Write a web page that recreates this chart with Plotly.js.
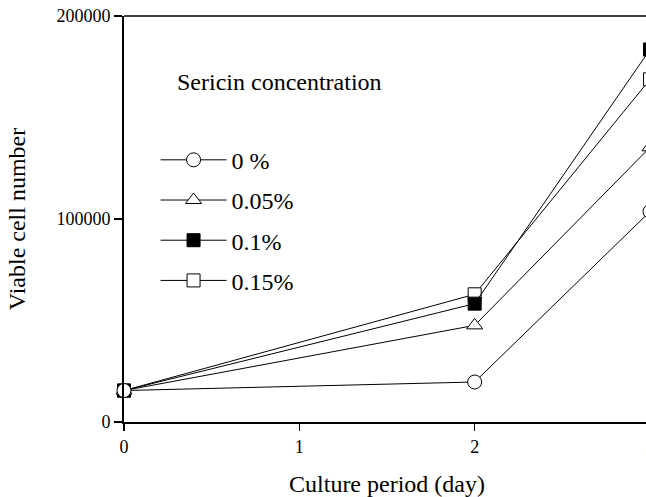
<!DOCTYPE html>
<html>
<head>
<meta charset="utf-8">
<script src="https://cdn.plot.ly/plotly-3.0.1.min.js"></script>
<style>
html, body { margin: 0; padding: 0; overflow: hidden; background: #fff; }
#chart { width: 700px; height: 497px; }
</style>
</head>
<body>
<div id="chart"></div>
<script>
// Data
const days = [0, 2, 3];
const seriesNames = ["0 %", "0.05%", "0.1%", "0.15%"];
const conc0 = [15500, 19700, 103700];
const conc005 = [15500, 47600, 135300];
const conc01 = [15500, 58300, 183500];
const conc015 = [15500, 62900, 168800];
const yTickVals = [0, 100000, 200000];
const xTickVals = [0, 1, 2, 3];

const FONT = "'Liberation Serif', 'Times New Roman', Times, serif";

const styles = [
  { symbol: "circle", fill: "#ffffff", size: 14 },
  { symbol: "triangle-up", fill: "#ffffff", size: 14 },
  { symbol: "square", fill: "#000000", size: 13 },
  { symbol: "square", fill: "#ffffff", size: 13 }
];
const values = [conc0, conc005, conc01, conc015];

const traces = [];
// draw order: 0.15% first, 0 % last (circle on top)
for (let i = values.length - 1; i >= 0; i--) {
  traces.push({
    x: days,
    y: values[i],
    name: seriesNames[i],
    type: "scatter",
    mode: "lines+markers",
    legendgroup: "g" + i,
    legendrank: i + 1,
    line: { color: "#000", width: 1 },
    marker: {
      symbol: styles[i].symbol,
      size: styles[i].size,
      color: styles[i].fill,
      line: { color: "#000", width: 1 }
    },
    cliponaxis: false
  });
}

const layout = {
  width: 700,
  height: 497,
  margin: { l: 124, r: 50, t: 16, b: 75 },
  paper_bgcolor: "#fff",
  plot_bgcolor: "#fff",
  font: { family: FONT, color: "#000", size: 18 },
  showlegend: true,
  legend: {
    x: 0.06,
    y: 0.497,
    xanchor: "left",
    yanchor: "middle",
    traceorder: "grouped",
    tracegroupgap: 6,
    itemwidth: 66,
    font: { family: FONT, size: 24, color: "#000" },
    bgcolor: "rgba(0,0,0,0)"
  },
  xaxis: {
    range: [0, 3],
    tickvals: xTickVals,
    ticks: "outside",
    ticklen: 7,
    tickwidth: 1.5,
    tickcolor: "#000",
    showline: true,
    linecolor: "#000",
    linewidth: 2,
    showgrid: false,
    zeroline: false,
    tickfont: { family: FONT, size: 18 },
    title: { text: "Culture period (day)", font: { family: FONT, size: 24 }, standoff: 20 }
  },
  yaxis: {
    range: [0, 200000],
    tickvals: yTickVals,
    tickformat: "d",
    ticks: "outside",
    ticklen: 8,
    tickwidth: 1.5,
    tickcolor: "#000",
    showline: true,
    linecolor: "#000",
    linewidth: 2,
    showgrid: false,
    zeroline: false,
    tickfont: { family: FONT, size: 18 },
    title: { text: "Viable cell number", font: { family: FONT, size: 24 }, standoff: 24 }
  },
  shapes: [
    { type: "line", xref: "paper", yref: "paper", x0: 0, x1: 1, y0: 1, y1: 1,
      line: { color: "#000", width: 1.5 } }
  ],
  annotations: [
    { text: "Sericin concentration", xref: "paper", yref: "paper",
      x: 0.097, y: 0.837, xanchor: "left", yanchor: "middle", showarrow: false,
      font: { family: FONT, size: 24, color: "#000" } }
  ]
};

Plotly.newPlot("chart", traces, layout, { displayModeBar: false, staticPlot: true });
</script>
</body>
</html>
